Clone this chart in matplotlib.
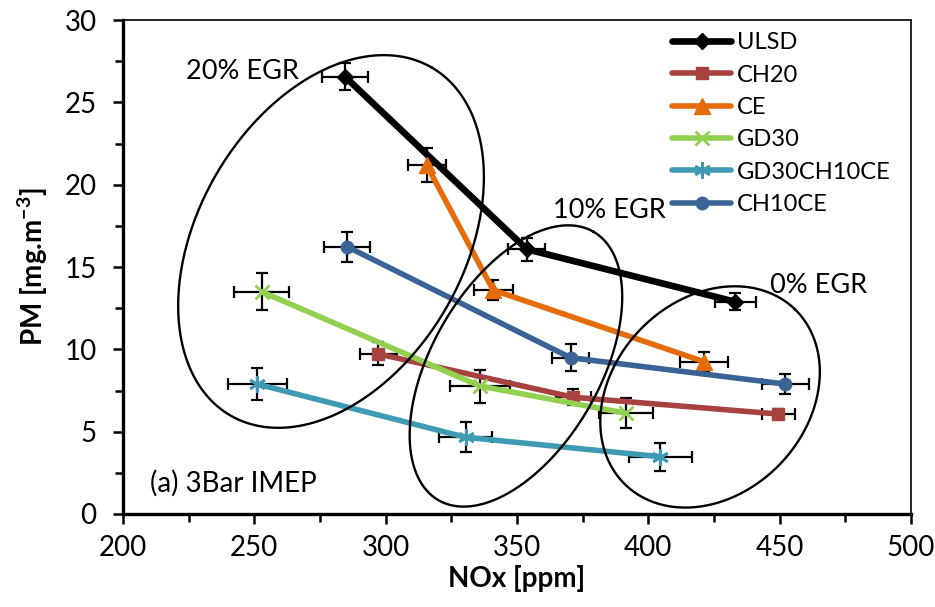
import numpy as np
import matplotlib

matplotlib.use("Agg")
from matplotlib import pyplot as plt  # noqa: E402
from matplotlib.ticker import MultipleLocator  # noqa: E402

# NOx [ppm] and PM [mg/m3], three EGR levels per fuel (20%, 10%, 0%)
fuels = ["ULSD", "CH20", "CE", "GD30", "GD30CH10CE", "CH10CE"]
nox = {
    "ULSD": [284.5, 353.7, 433.0],
    "CH20": [297.2, 371.4, 449.5],
    "CE": [315.6, 340.9, 421.2],
    "GD30": [252.8, 335.9, 391.5],
    "GD30CH10CE": [251.1, 330.4, 404.6],
    "CH10CE": [285.4, 370.4, 452.2],
}
pm = {
    "ULSD": [26.56, 16.08, 12.89],
    "CH20": [9.72, 7.09, 6.07],
    "CE": [21.19, 13.60, 9.25],
    "GD30": [13.50, 7.77, 6.12],
    "GD30CH10CE": [7.89, 4.66, 3.48],
    "CH10CE": [16.23, 9.49, 7.89],
}
nox_err = {
    "ULSD": [8.8, 7.0, 7.8],
    "CH20": [7.0, 6.7, 6.3],
    "CE": [7.2, 7.4, 9.0],
    "GD30": [10.5, 11.3, 10.3],
    "GD30CH10CE": [11.2, 10.0, 11.9],
    "CH10CE": [8.8, 7.0, 8.9],
}
pm_err = {
    "ULSD": [0.8, 0.7, 0.53],
    "CH20": [0.7, 0.5, 0.3],
    "CE": [1.05, 0.6, 0.6],
    "GD30": [1.14, 1.0, 0.91],
    "GD30CH10CE": [0.98, 0.91, 0.86],
    "CH10CE": [0.91, 0.81, 0.6],
}

style = {
    "ULSD": dict(color="#000000", marker="D", ms=8.5, lw=4.8),
    "CH20": dict(color="#A8423F", marker="s", ms=9, lw=4.0),
    "CE": dict(color="#E46C0A", marker="^", ms=11, lw=4.0),
    "GD30": dict(color="#92D050", marker="x", ms=10, lw=4.0, mew=2),
    "GD30CH10CE": dict(color="#3F9BB3", marker=(6, 2, 0), ms=12, lw=4.0, mew=2),
    "CH10CE": dict(color="#3B6496", marker="o", ms=9, lw=4.0),
}

# (label, x, y) and ellipses (centre x, centre y, semi-axes in px, tilt in deg)
egr_labels = [("20% EGR", 224.0, 26.85), ("10% EGR", 363.7, 18.45), ("0% EGR", 446.3, 13.9)]
egr_ellipses = [
    (279.2, 16.55, 201, 133, 60),
    (349.6, 8.99, 155, 84, 60),
    (423.5, 7.11, 122, 97, 46),
]

plt.rcParams["font.family"] = ["Lato", "DejaVu Sans"]
plt.rcParams["mathtext.fontset"] = "custom"
plt.rcParams["mathtext.rm"] = "Lato:bold"
plt.rcParams["mathtext.it"] = "Lato:bold"

W, H = 935, 607
fig = plt.figure(figsize=(W / 100, H / 100), dpi=100)
ax = fig.add_axes([123 / W, 93 / H, 788 / W, 494 / H])
ax.set_xlim(200, 500)
ax.set_ylim(0, 30)

for name in fuels:
    ax.errorbar(
        nox[name], pm[name], xerr=nox_err[name], yerr=pm_err[name],
        fmt="none", ecolor="black", elinewidth=1.6, capsize=4.5, capthick=1.6, zorder=2,
    )
for name in fuels:
    st = style[name]
    ax.plot(
        nox[name], pm[name], color=st["color"], lw=st["lw"], marker=st["marker"],
        ms=st["ms"], mew=st.get("mew", 1), solid_capstyle="round", label=name, zorder=3,
    )

ax_w = 788
ax_h = 494
t = np.linspace(0, 2 * np.pi, 400)
for cx, cy, a, b, ang in egr_ellipses:
    th = np.radians(ang)
    dx = a * np.cos(t) * np.cos(th) - b * np.sin(t) * np.sin(th)
    dy = a * np.cos(t) * np.sin(th) + b * np.sin(t) * np.cos(th)
    ax.plot(cx + dx * 300 / ax_w, cy + dy * 30 / ax_h, color="black", lw=1.7, zorder=4, clip_on=False)

for text, x, y in egr_labels:
    ax.text(x, y, text, fontsize=19.5, ha="left", va="center")
ax.text(210.3, 1.88, "(a) 3Bar IMEP", fontsize=20, ha="left", va="center")

ax.xaxis.set_major_locator(MultipleLocator(50))
ax.xaxis.set_minor_locator(MultipleLocator(25))
ax.yaxis.set_major_locator(MultipleLocator(5))
ax.yaxis.set_minor_locator(MultipleLocator(2.5))
ax.tick_params(which="both", direction="out", width=1.8, labelsize=20)
ax.tick_params(which="major", length=7)
ax.tick_params(which="minor", length=6)
ax.tick_params(axis="x", pad=8)
ax.tick_params(axis="y", pad=12)
for side in ("left", "bottom"):
    ax.spines[side].set_linewidth(2.4)
for side in ("top", "right"):
    ax.spines[side].set_linewidth(1.2)

ax.set_xlabel("NOx [ppm]", fontsize=20, fontweight="bold", labelpad=3)
ax.set_ylabel("PM [mg.m$^{-3}$]", fontsize=20, fontweight="bold", labelpad=10)

ax.legend(
    loc="upper left", bbox_to_anchor=(0.697, 0.975), frameon=False, fontsize=17,
    handlelength=2.5, handletextpad=0.25, labelspacing=0.48, borderpad=0, borderaxespad=0,
)

fig.savefig("out.png", dpi=100)
